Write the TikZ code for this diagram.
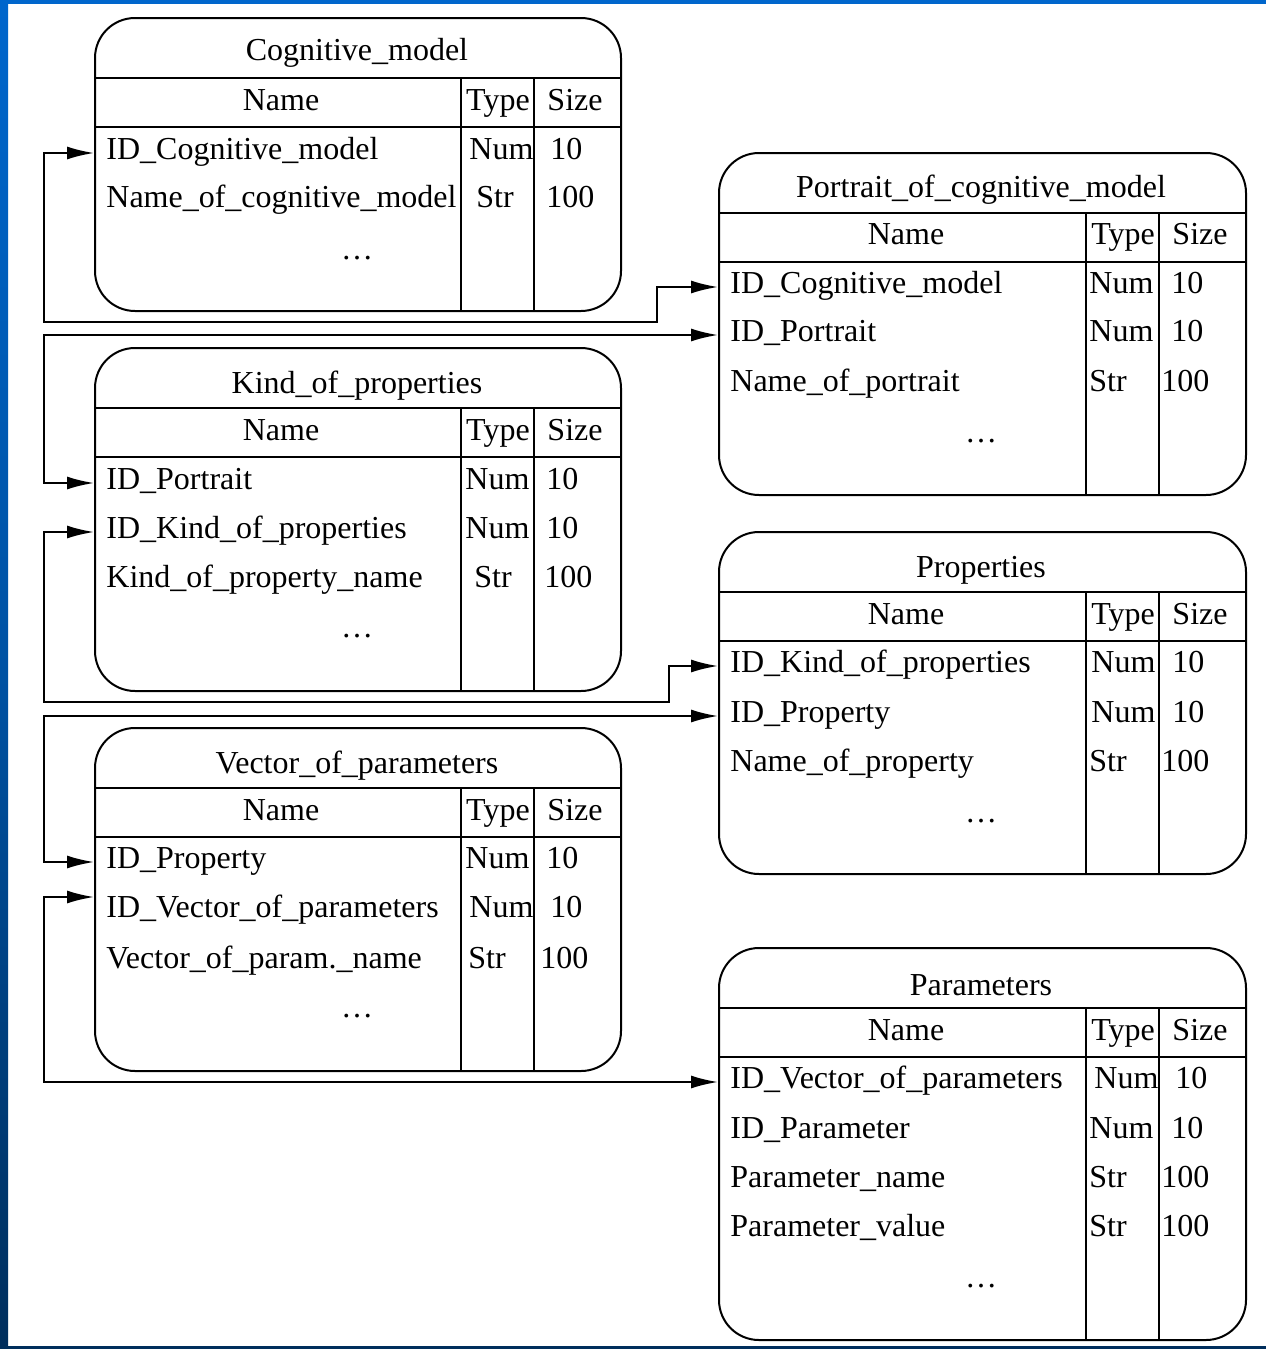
\documentclass[tikz,border=0pt]{standalone}
\usepackage{fontspec}
\setmainfont{Liberation Serif}
\usetikzlibrary{arrows.meta,calc}
\definecolor{frametop}{HTML}{0066CC}
\definecolor{framemid}{HTML}{0052A3}
\definecolor{framelow}{HTML}{002E5C}
\begin{document}
\begin{tikzpicture}[x=0.5pt,y=-0.5pt,
  tbox/.style={draw, line width=1pt, rounded corners=20pt, inner sep=0pt, anchor=north west},
  rule/.style={line width=1pt},
  txt/.style={inner sep=0pt, yshift=-2pt, text height=0.75em, text depth=0.1em, font=\fontsize{16}{19}\selectfont},
  fld/.style={txt, anchor=west},
  dots/.style={txt, anchor=base},
  link/.style={line width=1pt, {Latex[length=13.5pt,width=6.5pt]}-{Latex[length=13.5pt,width=6.5pt]}},
]
% page and frame
\useasboundingbox (0,0) rectangle (1266,1349);
\fill[white] (0,0) rectangle (1266,1349);
\shade[top color=frametop, bottom color=framelow, middle color=framemid] (0,0) rectangle (8,1349);
\fill[frametop] (0,0) rectangle (1266,4);
\fill[framelow] (0,1346) rectangle (1266,1349);

% ---------- Cognitive_model ----------
\node[tbox, minimum width=263pt, minimum height=146.5pt] (cm) at (94,17) {};
\draw[rule] (94,78) -- (620,78);
\draw[rule] (94,127) -- (620,127);
\draw[rule] (461,78) -- (461,310);
\draw[rule] (534,78) -- (534,310);
\node[txt] (cm-t) at (357,50) {Cognitive\_model};
\node[txt] (cm-hn) at (281,100) {Name};
\node[txt] (cm-ht) at (498,100) {Type};
\node[txt] (cm-hs) at (575,100) {Size};
\node[fld] (cm-r1) at (106,149) {ID\_Cognitive\_model};
\node[fld] (cm-r2) at (106,197) {Name\_of\_cognitive\_model};
\node[fld] (cm-t1) at (469,149) {Num};
\node[fld] (cm-t2) at (476,197) {Str};
\node[fld] (cm-s1) at (550,149) {10};
\node[fld] (cm-s2) at (546,197) {100};
\node[dots] (cm-d) at (357,255) {\ldots};

% ---------- Portrait_of_cognitive_model ----------
\node[tbox, minimum width=263.5pt, minimum height=171pt] (pc) at (718,152) {};
\draw[rule] (718,213) -- (1245,213);
\draw[rule] (718,262) -- (1245,262);
\draw[rule] (1086,213) -- (1086,494);
\draw[rule] (1159,213) -- (1159,494);
\node[txt] (pc-t) at (981,187) {Portrait\_of\_cognitive\_model};
\node[txt] (pc-hn) at (906,234) {Name};
\node[txt] (pc-ht) at (1123,234) {Type};
\node[txt] (pc-hs) at (1200,234) {Size};
\node[fld] (pc-r1) at (730,283) {ID\_Cognitive\_model};
\node[fld] (pc-r2) at (730,331) {ID\_Portrait};
\node[fld] (pc-r3) at (730,381) {Name\_of\_portrait};
\node[fld] (pc-t1) at (1089,283) {Num};
\node[fld] (pc-t2) at (1089,331) {Num};
\node[fld] (pc-t3) at (1089,381) {Str};
\node[fld] (pc-s1) at (1171,283) {10};
\node[fld] (pc-s2) at (1171,331) {10};
\node[fld] (pc-s3) at (1161,381) {100};
\node[dots] (pc-d) at (981,438) {\ldots};

% ---------- Kind_of_properties ----------
\node[tbox, minimum width=263pt, minimum height=171.5pt] (kp) at (94,347) {};
\draw[rule] (94,408) -- (620,408);
\draw[rule] (94,457) -- (620,457);
\draw[rule] (461,408) -- (461,690);
\draw[rule] (534,408) -- (534,690);
\node[txt] (kp-t) at (357,383) {Kind\_of\_properties};
\node[txt] (kp-hn) at (281,430) {Name};
\node[txt] (kp-ht) at (498,430) {Type};
\node[txt] (kp-hs) at (575,430) {Size};
\node[fld] (kp-r1) at (106,479) {ID\_Portrait};
\node[fld] (kp-r2) at (106,528) {ID\_Kind\_of\_properties};
\node[fld] (kp-r3) at (106,577) {Kind\_of\_property\_name};
\node[fld] (kp-t1) at (465,479) {Num};
\node[fld] (kp-t2) at (465,528) {Num};
\node[fld] (kp-t3) at (474,577) {Str};
\node[fld] (kp-s1) at (546,479) {10};
\node[fld] (kp-s2) at (546,528) {10};
\node[fld] (kp-s3) at (544,577) {100};
\node[dots] (kp-d) at (357,633) {\ldots};

% ---------- Properties ----------
\node[tbox, minimum width=263.5pt, minimum height=171pt] (pr) at (718,531) {};
\draw[rule] (718,592) -- (1245,592);
\draw[rule] (718,641) -- (1245,641);
\draw[rule] (1086,592) -- (1086,873);
\draw[rule] (1159,592) -- (1159,873);
\node[txt] (pr-t) at (981,567) {Properties};
\node[txt] (pr-hn) at (906,614) {Name};
\node[txt] (pr-ht) at (1123,614) {Type};
\node[txt] (pr-hs) at (1200,614) {Size};
\node[fld] (pr-r1) at (730,662) {ID\_Kind\_of\_properties};
\node[fld] (pr-r2) at (730,712) {ID\_Property};
\node[fld] (pr-r3) at (730,761) {Name\_of\_property};
\node[fld] (pr-t1) at (1091,662) {Num};
\node[fld] (pr-t2) at (1091,712) {Num};
\node[fld] (pr-t3) at (1089,761) {Str};
\node[fld] (pr-s1) at (1172,662) {10};
\node[fld] (pr-s2) at (1172,712) {10};
\node[fld] (pr-s3) at (1161,761) {100};
\node[dots] (pr-d) at (981,818) {\ldots};

% ---------- Vector_of_parameters ----------
\node[tbox, minimum width=263pt, minimum height=171.5pt] (vp) at (94,727) {};
\draw[rule] (94,788) -- (620,788);
\draw[rule] (94,837) -- (620,837);
\draw[rule] (461,788) -- (461,1070);
\draw[rule] (534,788) -- (534,1070);
\node[txt] (vp-t) at (357,763) {Vector\_of\_parameters};
\node[txt] (vp-hn) at (281,810) {Name};
\node[txt] (vp-ht) at (498,810) {Type};
\node[txt] (vp-hs) at (575,810) {Size};
\node[fld] (vp-r1) at (106,858) {ID\_Property};
\node[fld] (vp-r2) at (106,907) {ID\_Vector\_of\_parameters};
\node[fld] (vp-r3) at (106,958) {Vector\_of\_param.\_name};
\node[fld] (vp-t1) at (465,858) {Num};
\node[fld] (vp-t2) at (469,907) {Num};
\node[fld] (vp-t3) at (468,958) {Str};
\node[fld] (vp-s1) at (546,858) {10};
\node[fld] (vp-s2) at (550,907) {10};
\node[fld] (vp-s3) at (540,958) {100};
\node[dots] (vp-d) at (357,1013) {\ldots};

% ---------- Parameters ----------
\node[tbox, minimum width=263.5pt, minimum height=196pt] (pa) at (718,947) {};
\draw[rule] (718,1008) -- (1245,1008);
\draw[rule] (718,1057) -- (1245,1057);
\draw[rule] (1086,1008) -- (1086,1339);
\draw[rule] (1159,1008) -- (1159,1339);
\node[txt] (pa-t) at (981,985) {Parameters};
\node[txt] (pa-hn) at (906,1030) {Name};
\node[txt] (pa-ht) at (1123,1030) {Type};
\node[txt] (pa-hs) at (1200,1030) {Size};
\node[fld] (pa-r1) at (730,1078) {ID\_Vector\_of\_parameters};
\node[fld] (pa-r2) at (730,1128) {ID\_Parameter};
\node[fld] (pa-r3) at (730,1177) {Parameter\_name};
\node[fld] (pa-r4) at (730,1226) {Parameter\_value};
\node[fld] (pa-t1) at (1094,1078) {Num};
\node[fld] (pa-t2) at (1089,1128) {Num};
\node[fld] (pa-t3) at (1089,1177) {Str};
\node[fld] (pa-t4) at (1089,1226) {Str};
\node[fld] (pa-s1) at (1175,1078) {10};
\node[fld] (pa-s2) at (1171,1128) {10};
\node[fld] (pa-s3) at (1161,1177) {100};
\node[fld] (pa-s4) at (1161,1226) {100};
\node[dots] (pa-d) at (981,1283) {\ldots};

% ---------- key links ----------
\coordinate (lane) at (44,0);
\coordinate (j1) at (657,322);
\coordinate (j3) at (669,702);

\draw[link] (cm-r1.west -| cm.west) -- (cm-r1.west -| lane) -- (lane |- j1) -- (j1) |- (pc-r1.west -| pc.west);
\draw[link] (kp-r1.west -| kp.west) -- (kp-r1.west -| lane) -- (pc-r2.west -| lane) -- (pc-r2.west -| pc.west);
\draw[link] (kp-r2.west -| kp.west) -- (kp-r2.west -| lane) -- (lane |- j3) -- (j3) |- (pr-r1.west -| pr.west);
\draw[link] (pr-r2.west -| pr.west) -- (pr-r2.west -| lane) -- (vp-r1.west -| lane) -- (vp-r1.west -| vp.west);
\coordinate (vp-p2) at ($(vp-r2.west -| vp.west)+(0,-14)$);
\draw[link] (vp-p2) -- (vp-p2 -| lane) -- (pa-r1.west -| lane) -- (pa-r1.west -| pa.west);
\end{tikzpicture}
\end{document}
